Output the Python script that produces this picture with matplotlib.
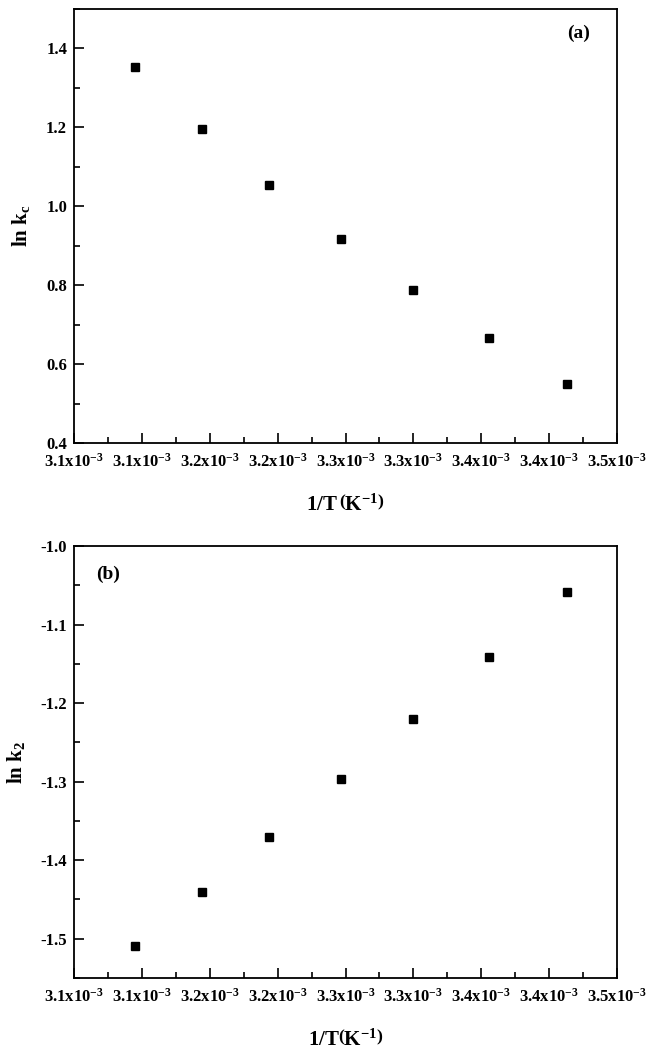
import matplotlib
matplotlib.use('Agg')
import matplotlib.pyplot as plt
from matplotlib.ticker import MultipleLocator, FormatStrFormatter

# 1/T values (in units of 1e-3 K^-1)
inv_T = [3.145, 3.194, 3.244, 3.297, 3.350, 3.406, 3.463]
ln_kc = [1.354, 1.197, 1.053, 0.918, 0.789, 0.666, 0.550]
ln_k2 = [-1.509, -1.441, -1.370, -1.296, -1.220, -1.141, -1.058]

x_ticks = [3.10, 3.15, 3.20, 3.25, 3.30, 3.35, 3.40, 3.45, 3.50]
x_tick_labels = ['3.1', '3.1', '3.2', '3.2', '3.3', '3.3', '3.4', '3.4', '3.5']

plt.rcParams['font.family'] = 'Liberation Serif'
plt.rcParams['font.weight'] = 'bold'
plt.rcParams['axes.unicode_minus'] = False
plt.rcParams['mathtext.fontset'] = 'custom'
plt.rcParams['mathtext.rm'] = 'Liberation Serif:bold'
plt.rcParams['mathtext.it'] = 'Liberation Serif:bold'
plt.rcParams['mathtext.bf'] = 'Liberation Serif:bold'
plt.rcParams['mathtext.default'] = 'regular'

fig = plt.figure(figsize=(6.48, 10.56), dpi=100)
ax1 = fig.add_axes([0.1142, 0.5805, 0.838, 0.411])
ax2 = fig.add_axes([0.1142, 0.0739, 0.838, 0.409])


def style_axis(ax, ylim, ymajor, yminor):
    ax.set_xlim(3.10, 3.50)
    ax.set_ylim(*ylim)
    ax.set_xticks(x_ticks)
    ax.set_xticklabels([s + r'x10$^{-3}$' for s in x_tick_labels], fontweight='bold')
    ax.xaxis.set_minor_locator(MultipleLocator(0.025))
    ax.yaxis.set_major_locator(MultipleLocator(ymajor))
    ax.yaxis.set_minor_locator(MultipleLocator(yminor))
    ax.yaxis.set_major_formatter(FormatStrFormatter('%.1f'))
    ax.tick_params(which='both', direction='in', top=False, right=False, width=1.2)
    ax.tick_params(which='major', length=7, labelsize=12)
    ax.tick_params(which='minor', length=4)
    ax.tick_params(axis='x', which='major', pad=7)
    ax.tick_params(axis='y', which='major', pad=5)
    for lab in ax.get_yticklabels():
        lab.set_fontweight('bold')
    for sp in ax.spines.values():
        sp.set_linewidth(1.3)


ax1.plot(inv_T, ln_kc, 's', color='black', markersize=6)
style_axis(ax1, (0.4, 1.5), 0.2, 0.1)
ax1.set_ylabel(r'ln k$_\mathregular{c}$', fontsize=15, fontweight='bold', labelpad=10)
ax1.set_xlabel(r'1/T$\,\left(\mathregular{K^{-1}}\right)$', fontsize=15, fontweight='bold', labelpad=17)
ax1.text(0.93, 0.945, '(a)', transform=ax1.transAxes, fontsize=14, fontweight='bold',
         ha='center', va='center')

ax2.plot(inv_T, ln_k2, 's', color='black', markersize=6)
style_axis(ax2, (-1.55, -1.0), 0.1, 0.05)
ax2.set_ylabel(r'ln k$_\mathregular{2}$', fontsize=15, fontweight='bold', labelpad=10)
ax2.set_xlabel(r'1/T$\left(\mathregular{K^{-1}}\right)$', fontsize=15, fontweight='bold', labelpad=17)
ax2.text(0.062, 0.935, '(b)', transform=ax2.transAxes, fontsize=14, fontweight='bold',
         ha='center', va='center')

plt.savefig('out.png', dpi=100)
plt.close()
